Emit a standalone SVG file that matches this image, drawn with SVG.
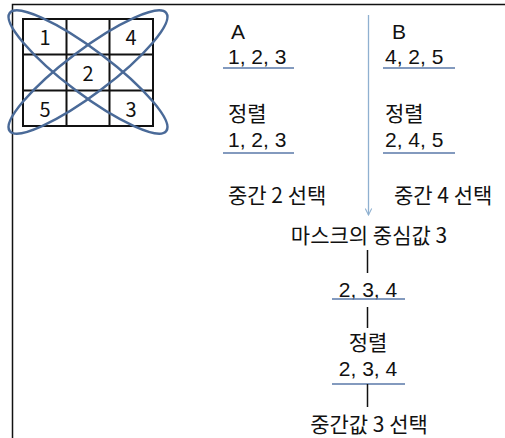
<svg xmlns="http://www.w3.org/2000/svg" width="505" height="438" viewBox="0 0 505 438">
<defs>
<style>
.t{font-family:"Noto Sans CJK KR","Malgun Gothic",sans-serif;font-size:21px;fill:#111}
.l{font-family:"Liberation Sans",Arial,sans-serif;font-size:21px;fill:#111}
.n{font-family:"Noto Sans CJK KR",sans-serif;font-size:21px;fill:#111;text-anchor:middle}
.nl{font-family:"Liberation Sans",Arial,sans-serif;font-size:21px;fill:#111;text-anchor:middle}
.g{font-family:"Noto Sans CJK KR",sans-serif;font-size:20px;fill:#111;text-anchor:middle}
.ul{stroke:#5a78a8;stroke-width:1.3}
.vl{stroke:#111;stroke-width:1.5}
.grid{fill:none;stroke:#111;stroke-width:2}
.ell{fill:none;stroke:#4a6a98;stroke-width:2.5}
</style>
<marker id="ah" viewBox="0 0 10 10" refX="9" refY="5" markerWidth="8" markerHeight="8" orient="auto" markerUnits="userSpaceOnUse">
<path d="M1,1 L9,5 L1,9" fill="none" stroke="#8fb0d0" stroke-width="1.3"/>
</marker>
</defs>
<rect width="505" height="438" fill="#fff"/>
<path d="M12.5,438 V4.5 H505" fill="none" stroke="#111" stroke-width="1.5"/>
<g id="mask">
<rect class="grid" x="23" y="19" width="130" height="107"/>
<path class="grid" d="M66.5,19V126M109.5,19V126M23,54.5H153M23,90.5H153"/>
<text class="g" x="45" y="45">1</text>
<text class="g" x="131" y="45">4</text>
<text class="g" x="88" y="81">2</text>
<text class="g" x="45" y="117">5</text>
<text class="g" x="131" y="117">3</text>
<ellipse class="ell" cx="88" cy="72" rx="98" ry="22" transform="rotate(37 88 72)"/>
<ellipse class="ell" cx="88" cy="72" rx="98" ry="22" transform="rotate(-37 88 72)"/>
</g>
<g id="colA">
<text class="l" x="231" y="39">A</text>
<text class="l" x="228" y="64">1, 2, 3</text>
<text class="t" x="228" y="121">정렬</text>
<text class="l" x="228" y="147">1, 2, 3</text>
<text class="t" x="228" y="203">중간 2 선택</text>
</g>
<g id="colB">
<text class="l" x="392" y="39">B</text>
<text class="l" x="385" y="64">4, 2, 5</text>
<text class="t" x="385" y="121">정렬</text>
<text class="l" x="385" y="147">2, 4, 5</text>
<text class="t" x="394" y="203">중간 4 선택</text>
</g>
<g id="center">
<text class="n" x="369" y="243">마스크의 중심값 3</text>
<text class="nl" x="368" y="297">2, 3, 4</text>
<text class="n" x="368" y="350">정렬</text>
<text class="nl" x="368" y="376">2, 3, 4</text>
<text class="n" x="369" y="432">중간값 3 선택</text>
</g>
<g id="connectors">
<line class="ul" x1="223" y1="68" x2="294" y2="68"/>
<line class="ul" x1="223" y1="153" x2="294" y2="153"/>
<line class="ul" x1="383" y1="68" x2="455" y2="68"/>
<line class="ul" x1="383" y1="153" x2="455" y2="153"/>
<line x1="368.5" y1="15" x2="368.5" y2="215" stroke="#8fb0d0" stroke-width="1.3" marker-end="url(#ah)"/>
<line class="vl" x1="367.5" y1="250" x2="367.5" y2="273"/>
<line class="ul" x1="332" y1="299" x2="405" y2="299"/>
<line class="vl" x1="367.5" y1="307" x2="367.5" y2="328"/>
<line class="ul" x1="332" y1="384" x2="405" y2="384"/>
<line class="vl" x1="367.5" y1="384" x2="367.5" y2="407"/>
</g>
</svg>
